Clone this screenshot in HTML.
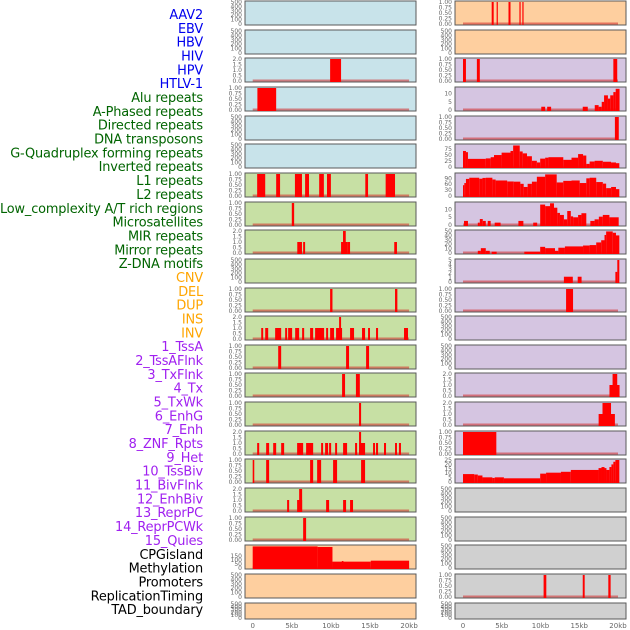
<!DOCTYPE html>
<html><head><meta charset="utf-8"><style>
html,body{margin:0;padding:0;background:#fff;width:630px;height:630px;overflow:hidden}
svg{display:block;font-family:"DejaVu Sans","Liberation Sans",sans-serif}
</style></head><body>
<svg id="chart" width="630" height="630" viewBox="0 0 630 630"></svg>
<script>
// ---------- data ----------
const trackLabels = ["AAV2","EBV","HBV","HIV","HPV","HTLV-1","Alu repeats","A-Phased repeats","Directed repeats","DNA transposons","G-Quadruplex forming repeats","Inverted repeats","L1 repeats","L2 repeats","Low_complexity A/T rich regions","Microsatellites","MIR repeats","Mirror repeats","Z-DNA motifs","CNV","DEL","DUP","INS","INV","1_TssA","2_TssAFlnk","3_TxFlnk","4_Tx","5_TxWk","6_EnhG","7_Enh","8_ZNF_Rpts","9_Het","10_TssBiv","11_BivFlnk","12_EnhBiv","13_ReprPC","14_ReprPCWk","15_Quies","CPGisland","Methylation","Promoters","ReplicationTiming","TAD_boundary"];
const labelGroups = [6,13,5,15,5]; // counts per colour group
const xTickValues = [0,5,10,15,20];
const xTickLabels = ["0","5kb","10kb","15kb","20kb"];

const ticks500 = [0,100,200,300,400,500];
const ticks1 = [0,0.25,0.5,0.75,1];
const ticks2 = [0,0.5,1,1.5,2];
const ticksA = [0,5,10];
const ticksB = [0,25,50,75];
const ticksC = [0,30,60,90];
const ticksD = [0,10,20,30,40,50];
const ticksE = [0,1,2,3,4,5];
const ticksF = [0,5,10,15,20,25];
const ticksM = [0,50,100,150];

// bars: [startKb, endKb, value]
const L2bars = [[9.9,11.3,2]];
const L3bars = [[0.6,3.0,1]];
const L6bars = [[0.57,1.6,1],[3.0,3.5,1],[5.4,6.3,1],[6.7,7.2,1],[8.5,9.1,1],[9.5,10.0,1],[14.4,14.75,1],[17.0,18.2,1]];
const L7bars = [[5.0,5.3,1]];
const L8bars = [[5.7,6.3,1],[6.45,6.7,1],[11.3,12.1,1],[11.55,11.9,2],[12.1,12.45,1],[18.1,18.45,1]];
const L10bars = [[9.9,10.2,1],[18.2,18.5,1]];
const L11bars = [[1.09,1.34,1],[1.6,1.98,1],[2.87,3.64,1],[4.15,4.4,1],[4.53,5.04,1],[5.43,5.94,1],[6.32,6.58,1],[7.34,7.73,1],[7.98,9.13,1],[9.39,9.64,1],[9.9,10.4,1],[10.66,11.43,1],[11.05,11.3,2],[12.45,12.96,1],[13.98,14.37,1],[14.75,15.0,1],[15.77,16.03,1],[19.35,19.86,1]];
const L12bars = [[3.26,3.64,1],[11.94,12.32,1],[14.5,14.88,1]];
const L13bars = [[11.43,11.81,1],[13.2,13.7,1]];
const L14bars = [[13.6,13.86,1]];
const L15bars = [[0.57,0.83,1],[1.72,2.1,1],[2.62,3.0,1],[3.64,4.02,1],[5.68,6.45,1],[6.83,7.73,1],[8.75,9.0,1],[9.26,9.64,1],[9.77,10.03,1],[10.54,10.79,1],[11.56,12.07,1],[13.09,13.35,1],[13.6,14.37,1],[13.6,13.86,2],[15.39,15.64,1],[15.77,16.03,1],[16.79,17.05,1],[18.2,18.45,1],[18.7,18.96,1]];
const L16bars = [[0,0.2,1],[1.72,2.1,1],[7.34,7.73,1],[8.24,8.75,1],[10.28,10.79,1],[13.86,14.37,1]];
const L17bars = [[4.4,4.66,1],[5.68,6.32,1],[5.94,6.32,2],[9.39,9.77,1],[11.56,11.94,1],[12.45,12.83,1]];
const L18bars = [[6.45,6.83,1]];
const L19bars = [[0,8.3,265],[8.3,10.2,258],[10.2,15.1,78],[11.4,11.6,86],[15.1,20,90]];

const R0bars = [[3.7,3.96,1],[4.34,4.47,1],[5.87,6.13,1],[7.28,7.41,1],[7.66,7.79,1]];
const R2bars = [[0,0.38,1],[1.79,2.17,1],[19.4,19.9,1]];
const R3bars = [[10.1,10.6,2],[10.86,11.37,2],[15.45,16.1,2],[17.0,17.5,3],[17.5,17.9,2],[17.9,18.2,5],[18.2,18.7,9],[18.7,19.0,7],[19.0,19.4,9],[19.4,19.7,11],[19.7,20.2,13]];
const R4bars = [[19.6,20.1,1]];
const R5bars = [[0,0.38,67],[0.38,0.64,62],[0.64,2.94,34],[2.94,3.57,36],[3.57,4.0,41],[4.0,4.98,50],[4.98,6.13,60],[6.13,6.47,67],[6.47,7.32,90],[7.32,7.7,65],[7.7,8.26,57],[8.26,8.89,45],[8.89,9.53,26],[9.53,9.96,19],[9.96,10.6,35],[10.6,11.02,39],[11.02,12.94,41],[12.94,14.0,30],[14.0,14.85,39],[14.85,15.49,54],[15.49,15.91,48],[15.91,16.34,13],[16.34,16.98,23],[16.98,18.04,26],[18.04,19.1,22],[19.1,19.74,19],[19.74,20.17,16]];
const R6bars = [[0,0.17,55],[0.17,0.38,66],[0.38,0.81,87],[0.81,2.09,93],[2.09,2.51,88],[2.51,2.94,92],[2.94,3.79,93],[3.79,4.21,84],[4.21,5.7,79],[5.7,6.55,74],[6.55,7.4,73],[7.4,7.83,62],[7.83,8.34,46],[8.34,8.89,62],[8.89,9.53,73],[9.53,10.6,98],[10.6,12.09,110],[12.09,12.94,69],[12.94,14.0,77],[14.0,15.06,79],[15.06,15.91,66],[15.91,16.34,90],[16.34,17.19,93],[17.19,18.04,71],[18.04,18.47,63],[18.47,19.11,40],[19.11,19.74,46],[19.74,20.17,35]];
const R7bars = [[0.13,0.64,2.6],[1.91,2.17,1.5],[2.17,2.55,3.8],[2.55,2.94,2.6],[3.19,3.57,2.6],[4.09,4.85,1.5],[7.15,7.79,2.6],[9.06,9.57,1.5],[9.96,10.6,13],[10.6,11.23,12],[11.23,11.74,13.8],[11.74,12.17,11],[12.17,12.51,7.7],[12.51,13.02,6.4],[13.02,13.45,3.6],[13.45,13.91,8.9],[13.91,14.21,5.5],[14.21,14.85,4.9],[14.85,15.28,6.4],[15.28,15.91,7.5],[16.43,16.98,2.6],[16.98,17.53,3.6],[17.53,18.04,5.3],[18.04,18.89,6.4],[18.89,20.09,4.9]];
const R8bars = [[1.91,2.3,5],[2.3,2.94,11],[2.94,3.45,5],[3.7,4.34,3],[7.91,9.96,3],[9.96,10.6,14],[10.6,11.87,11],[11.87,12.3,5],[12.3,13.15,12],[13.15,15.49,15],[15.49,16.34,17],[16.34,17.19,18],[17.19,17.83,24],[17.83,18.26,29],[18.26,18.47,41],[18.47,19.32,49],[19.32,19.74,46],[19.74,20.17,40]];
const R9bars = [[13.02,14.17,1.2],[14.8,15.3,1.2],[19.66,19.91,2.3],[19.91,20.17,5]];
const R10bars = [[13.3,14.2,1]];
const R13bars = [[18.9,20.2,1],[19.3,19.9,2]];
const R14bars = [[17.5,19.6,1],[18.0,19.1,2]];
const R15bars = [[0,4.3,1]];
const R16bars = [[0,1.45,9],[1.45,1.91,8.5],[1.91,2.51,7.4],[2.51,3.79,5.3],[3.79,4.09,4.6],[4.09,5.28,5.3],[5.28,9.96,4.2],[9.96,10.72,9.5],[10.72,12.64,10.6],[12.64,13.91,11.6],[13.91,17.49,13.7],[17.49,17.87,15.8],[17.87,18.26,17],[18.26,18.51,15.8],[18.51,18.89,13.7],[18.89,19.15,17],[19.15,19.4,20],[19.4,19.66,23],[19.66,20.17,25]];
const R20bars = [[10.4,10.75,1],[15.45,15.7,1],[18.75,19.05,1]];

const BLUE="#c8e3ea",GREEN="#c7e0a4",ORANGE="#fecf9f",PURPLE="#d5c5e1",GRAY="#d0d0d0";
const leftPanels = [
 [BLUE,ticks500,null],[BLUE,ticks500,null],[BLUE,ticks2,L2bars],[BLUE,ticks1,L3bars],[BLUE,ticks500,null],[BLUE,ticks500,null],
 [GREEN,ticks1,L6bars],[GREEN,ticks1,L7bars],[GREEN,ticks2,L8bars],[GREEN,ticks500,null],[GREEN,ticks1,L10bars],[GREEN,ticks2,L11bars],
 [GREEN,ticks1,L12bars],[GREEN,ticks1,L13bars],[GREEN,ticks1,L14bars],[GREEN,ticks2,L15bars],[GREEN,ticks1,L16bars],[GREEN,ticks2,L17bars],[GREEN,ticks1,L18bars],
 [ORANGE,ticksM,L19bars,270],[ORANGE,ticks500,null],[ORANGE,ticks500,null]];
const rightPanels = [
 [ORANGE,ticks1,R0bars],[ORANGE,ticks500,null],[PURPLE,ticks1,R2bars],[PURPLE,ticksA,R3bars,13.5],[PURPLE,ticks1,R4bars],[PURPLE,ticksB,R5bars,92],
 [PURPLE,ticksC,R6bars,112],[PURPLE,ticksA,R7bars,14],[PURPLE,ticksD,R8bars,50],[PURPLE,ticksE,R9bars,5],[PURPLE,ticks1,R10bars],[PURPLE,ticks500,null],
 [PURPLE,ticks500,null],[PURPLE,ticks2,R13bars],[PURPLE,ticks2,R14bars],[PURPLE,ticks1,R15bars],[PURPLE,ticksF,R16bars,25],[GRAY,ticks500,null],
 [GRAY,ticks500,null],[GRAY,ticks500,null],[GRAY,ticks1,R20bars],[GRAY,ticks500,null]];

// ---------- drawing ----------
const NS="http://www.w3.org/2000/svg";
const svg=document.getElementById('chart');
function mk(tag,attrs,parent){const e=document.createElementNS(NS,tag);for(const k in attrs)e.setAttribute(k,attrs[k]);(parent||svg).appendChild(e);return e;}

const groupColors=["#0000ee","#006400","#ffa500","#a020f0","#000000"];
let gi=0,cnt=0;
trackLabels.forEach((t,i)=>{
  while(cnt>=labelGroups[gi]){cnt-=labelGroups[gi];gi++;}
  const el=mk('text',{x:203,y:19+i*13.84,'text-anchor':'end','font-size':12.9,'letter-spacing':-0.15,fill:groupColors[gi]});
  el.textContent=t;
  
  
  cnt++;
});

const rowTops=[];for(let i=0;i<22;i++)rowTops.push(Math.round(i*28.65));
function fmt(ticks,v){
  if(ticks===ticks1) return v.toFixed(2);
  if(ticks===ticks2) return v.toFixed(1);
  return String(v);
}
function drawPanel(colX,x0px,scale,row,cfg,side){
  const [bg,ticks,bars,ymaxOpt]=cfg;
  const top=rowTops[row]+1, h=(row===21?16:24), w=171;
  const ymax=ymaxOpt||ticks[ticks.length-1];
  const g=mk('g',{});
  
  
  const r=mk('rect',{x:colX,y:top,width:w,height:h,fill:bg,stroke:'#5a5a5a','stroke-width':1},g);
  
  
  const yS=v=>top+h-1-(v/ymax)*(h-2);
  const xS=kb=>x0px+kb*scale;
  ticks.forEach(v=>{
    const t=mk('text',{x:colX-3,y:yS(v)+2,'text-anchor':'end','font-size':6,fill:'#666'},g);
    t.textContent=fmt(ticks,v);
    
    
  });
  if(bars){
    const bl=mk('rect',{x:xS(0),y:yS(0)-1.5,width:20*scale,height:2,fill:'rgba(210,40,40,0.55)'},g);
    
    
    bars.forEach(b=>{
      const x1=Math.max(colX+0.5,xS(b[0])),x2=Math.min(colX+w-0.5,xS(b[1]));
      const y=yS(Math.min(b[2],ymax));
      const br=mk('rect',{x:x1,y:y,width:Math.max(1.2,x2-x1),height:yS(0)-y+1,fill:'#ff0000'},g);
      
      
    });
  }
}
leftPanels.forEach((c,i)=>drawPanel(245,252.7,7.82,i,c,'left'));
rightPanels.forEach((c,i)=>drawPanel(455,463,7.75,i,c,'right'));

xTickValues.forEach((v,i)=>{
  [[252.7,7.82,'left'],[463,7.75,'right']].forEach(([o,s,side])=>{
    const t=mk('text',{x:o+v*s,y:628,'text-anchor':'middle','font-size':7,fill:'#666'});
    t.textContent=xTickLabels[i];
    
    
  });
});
</script>
</body></html>
